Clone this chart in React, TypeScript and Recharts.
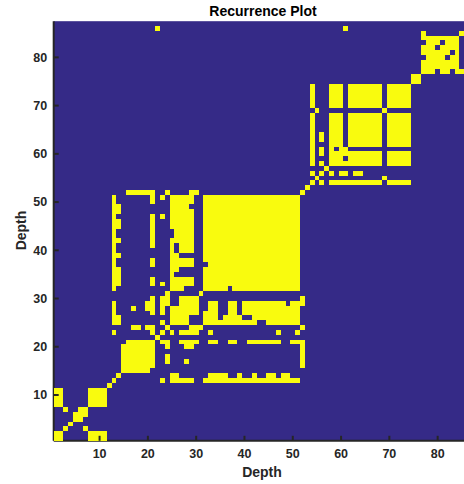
import React from 'react';
import { ScatterChart, Scatter, XAxis, YAxis, CartesianGrid } from 'recharts';

// recurrence matrix of N depth samples
const N = 87;
const X_TICKS = [10, 20, 30, 40, 50, 60, 70, 80];
const Y_TICKS = [10, 20, 30, 40, 50, 60, 70, 80];

// recurrent patches [i0, i1, j0, j1] (depth indices), mirrored about the diagonal
const BLOCKS: number[][] = [
  [1, 2, 1, 2], [8, 11, 1, 2], [7, 7, 3, 3], [5, 6, 5, 6], [6, 7, 6, 7], [8, 11, 8, 11],
  [15, 20, 15, 20], [16, 21, 16, 21],
  [23, 23, 13, 13], [25, 29, 13, 13], [32, 51, 13, 13],
  [25, 26, 14, 14], [33, 36, 14, 14], [39, 39, 14, 14], [42, 42, 14, 14], [45, 46, 14, 14], [48, 49, 14, 14],
  [52, 52, 16, 20], [24, 24, 17, 18], [28, 28, 17, 17], [24, 24, 20, 21], [28, 29, 20, 20],
  [23, 23, 21, 21], [27, 30, 21, 21], [33, 34, 21, 21], [37, 38, 21, 21], [41, 47, 21, 21], [50, 52, 21, 21],
  [25, 25, 23, 23], [27, 30, 23, 23], [33, 33, 23, 23], [47, 47, 23, 23], [51, 51, 23, 23],
  [29, 31, 24, 24], [52, 52, 24, 24],
  [25, 28, 25, 28], [27, 30, 27, 30], [32, 51, 25, 29], [52, 52, 29, 30],
  [32, 51, 32, 51],
  [54, 54, 56, 56], [58, 68, 54, 54], [70, 74, 54, 54], [69, 69, 55, 55],
  [58, 58, 56, 56], [60, 61, 56, 56], [63, 64, 56, 56],
  [58, 61, 58, 61], [62, 68, 58, 60], [70, 74, 58, 60],
  [62, 68, 62, 68], [70, 74, 62, 68], [70, 74, 70, 74],
  [75, 76, 75, 76],
  [78, 79, 77, 77], [81, 82, 77, 77], [84, 85, 77, 77], [78, 84, 78, 84],
  [86, 86, 22, 22], [86, 86, 61, 61],
];

// non-recurrent cells cut out of the patches above (also mirrored)
const HOLES: number[][] = [
  [37, 32],
  [32, 28], [32, 29], [35, 26], [35, 27], [35, 28], [35, 29], [36, 27], [36, 28], [36, 29],
  [39, 27], [39, 28], [39, 29], [40, 26], [41, 26], [43, 25], [44, 25], [49, 29],
  [61, 59],
  [80, 82], [81, 83],
];

const buildCells = () => {
  const on = new Set<string>();
  for (let d = 1; d <= N; d++) on.add(`${d},${d}`);
  BLOCKS.forEach(([i0, i1, j0, j1]) => {
    for (let i = i0; i <= i1; i++) {
      for (let j = j0; j <= j1; j++) {
        on.add(`${i},${j}`);
        on.add(`${j},${i}`);
      }
    }
  });
  HOLES.forEach(([i, j]) => {
    on.delete(`${i},${j}`);
    on.delete(`${j},${i}`);
  });
  return Array.from(on).map((k) => {
    const [x, y] = k.split(',').map(Number);
    return { x, y };
  });
};

const cells = buildCells();

const BLUE = '#352A87';
const YELLOW = '#F9FB0E';
const INK = '#262626';
const FONT = '"Liberation Sans", Arial, Helvetica, sans-serif';

const PLOT_LEFT = 53.7;
const PLOT_TOP = 21.2;
const PLOT_W = 420.2;
const PLOT_H = 419.6;
const CELL_W = PLOT_W / N;
const CELL_H = PLOT_H / N;
const X_AXIS_H = 44.2;

const RecurrenceCell = (props: any) => {
  const { cx, cy } = props;
  return (
    <rect
      x={cx - CELL_W / 2}
      y={cy - CELL_H / 2}
      width={CELL_W}
      height={CELL_H}
      fill={YELLOW}
      shapeRendering="crispEdges"
    />
  );
};

const BottomTick = (props: any) => {
  const { x, y, payload } = props;
  return (
    <g>
      <line x1={x} y1={y} x2={x} y2={y - 5} stroke={INK} strokeWidth={2} />
      <text x={x} y={y + 17.3} textAnchor="middle" fill={INK} fontSize={12.5} fontWeight="bold" fontFamily={FONT}>
        {payload.value}
      </text>
    </g>
  );
};

const TopTick = (props: any) => {
  const { x, y } = props;
  return <line x1={x} y1={y} x2={x} y2={y + 5} stroke={INK} strokeWidth={2} />;
};

const LeftTick = (props: any) => {
  const { x, y, payload } = props;
  return (
    <g>
      <line x1={x} y1={y} x2={x + 5} y2={y} stroke={INK} strokeWidth={2} />
      <text x={x - 6.5} y={y + 4.4} textAnchor="end" fill={INK} fontSize={12.5} fontWeight="bold" fontFamily={FONT}>
        {payload.value}
      </text>
    </g>
  );
};

export default function App() {
  const chartW = PLOT_LEFT + PLOT_W + 4;
  const chartH = PLOT_TOP + PLOT_H + X_AXIS_H;
  return (
    <div style={{ position: 'absolute', left: 0, top: 0, width: 464, height: 484, overflow: 'hidden', background: '#fff' }}>
      <ScatterChart
        width={chartW}
        height={chartH}
        margin={{ top: PLOT_TOP, right: 4, bottom: 0, left: 0 }}
      >
        <CartesianGrid fill={BLUE} horizontal={false} vertical={false} stroke="none" />
        <Scatter data={cells} dataKey="y" shape={RecurrenceCell} isAnimationActive={false} />
        <XAxis
          type="number"
          dataKey="x"
          domain={[0.5, N + 0.5]}
          ticks={X_TICKS}
          interval={0}
          height={X_AXIS_H}
          tickSize={0}
          tickMargin={0}
          tickLine={false}
          axisLine={{ stroke: INK, strokeWidth: 2 }}
          tick={BottomTick}
        />
        <XAxis
          xAxisId="top"
          orientation="top"
          type="number"
          domain={[0.5, N + 0.5]}
          ticks={X_TICKS}
          interval={0}
          height={0}
          tickSize={0}
          tickMargin={0}
          tickLine={false}
          axisLine={{ stroke: INK, strokeWidth: 2 }}
          tick={TopTick}
        />
        <YAxis
          type="number"
          dataKey="y"
          domain={[0.5, N + 0.5]}
          ticks={Y_TICKS}
          interval={0}
          width={PLOT_LEFT}
          tickSize={0}
          tickMargin={0}
          tickLine={false}
          axisLine={{ stroke: INK, strokeWidth: 2 }}
          tick={LeftTick}
        />
      </ScatterChart>
      <svg width={464} height={484} style={{ position: 'absolute', left: 0, top: 0, pointerEvents: 'none' }}>
        <text x={263} y={15.5} textAnchor="middle" fill="#000" fontSize={14} fontWeight="bold" fontFamily={FONT}>
          Recurrence Plot
        </text>
        <text x={262} y={477} textAnchor="middle" fill={INK} fontSize={14} fontWeight="bold" fontFamily={FONT}>
          Depth
        </text>
        <text
          transform="translate(25.5,230.5) rotate(-90)"
          textAnchor="middle"
          fill={INK}
          fontSize={14}
          fontWeight="bold"
          fontFamily={FONT}
        >
          Depth
        </text>
      </svg>
    </div>
  );
}
